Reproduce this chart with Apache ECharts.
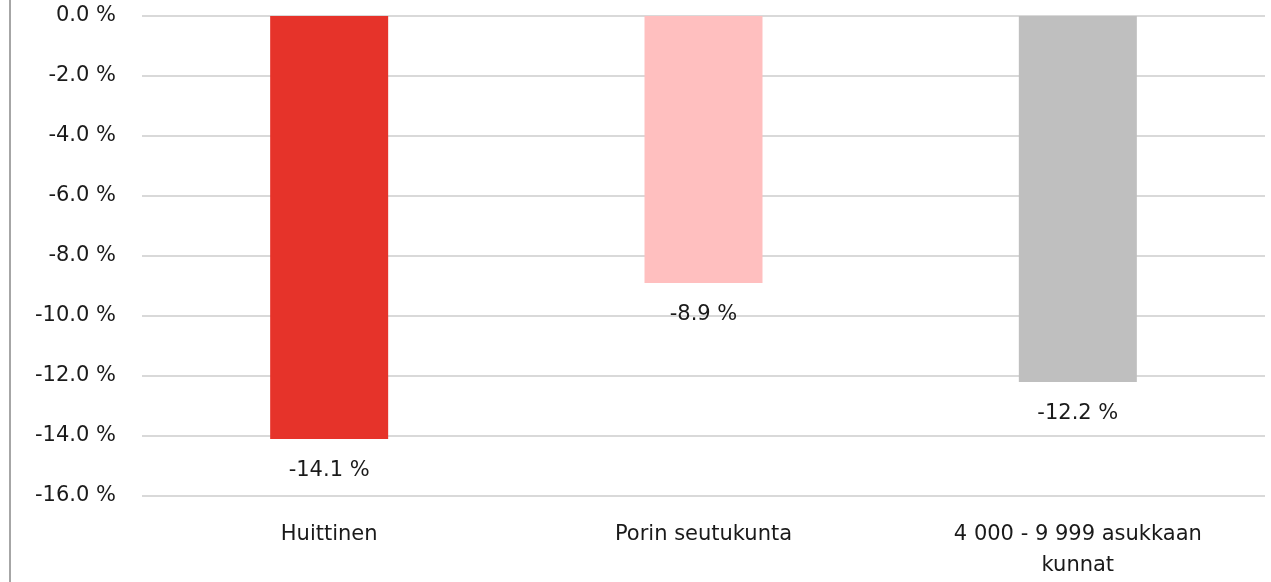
<!DOCTYPE html>
<html>
<head>
<meta charset="utf-8">
<script src="https://cdn.jsdelivr.net/npm/echarts@6/dist/echarts.min.js"></script>
<style>
  html, body { margin: 0; padding: 0; background: #fff; }
  #chart { width: 1271px; height: 582px; }
</style>
</head>
<body>
<div id="chart"></div>
<script>
// data
var categories = ['Huittinen', 'Porin seutukunta', '4 000 - 9 999 asukkaan\nkunnat'];
var values = [-14.1, -8.9, -12.2];
var barColors = ['#e6332a', '#ffbfbf', '#bfbfbf'];

var fontName = 'DejaVu Sans';
var textColor = '#1a1a1a';

var myChart = echarts.init(document.getElementById('chart'));
myChart.setOption({
    animation: false,
    grid: { left: 142, right: 6, top: 16, bottom: 86 },
    graphic: [
        { type: 'line', shape: { x1: 10, y1: 0, x2: 10, y2: 582 }, style: { stroke: '#a6a6a6', lineWidth: 2 } }
    ],
    xAxis: {
        type: 'category',
        data: categories,
        axisLine: { show: false, onZero: false },
        axisTick: { show: false },
        axisLabel: {
            color: textColor,
            fontFamily: fontName,
            fontSize: 21,
            lineHeight: 31,
            margin: 23
        }
    },
    yAxis: {
        type: 'value',
        min: -16,
        max: 0,
        interval: 2,
        axisLine: { show: false },
        axisTick: { show: false },
        splitLine: { lineStyle: { color: '#d9d9d9', width: 2 } },
        axisLabel: {
            color: textColor,
            fontFamily: fontName,
            fontSize: 21,
            margin: 26,
            formatter: function (v) { return v.toFixed(1) + ' %'; }
        }
    },
    series: [{
        type: 'bar',
        barWidth: 118,
        data: values.map(function (v, i) {
            return { value: v, itemStyle: { color: barColors[i] } };
        }),
        label: {
            show: true,
            position: 'bottom',
            distance: 21,
            color: textColor,
            fontFamily: fontName,
            fontSize: 21,
            formatter: function (p) { return p.value.toFixed(1) + ' %'; }
        }
    }]
});
</script>
</body>
</html>
